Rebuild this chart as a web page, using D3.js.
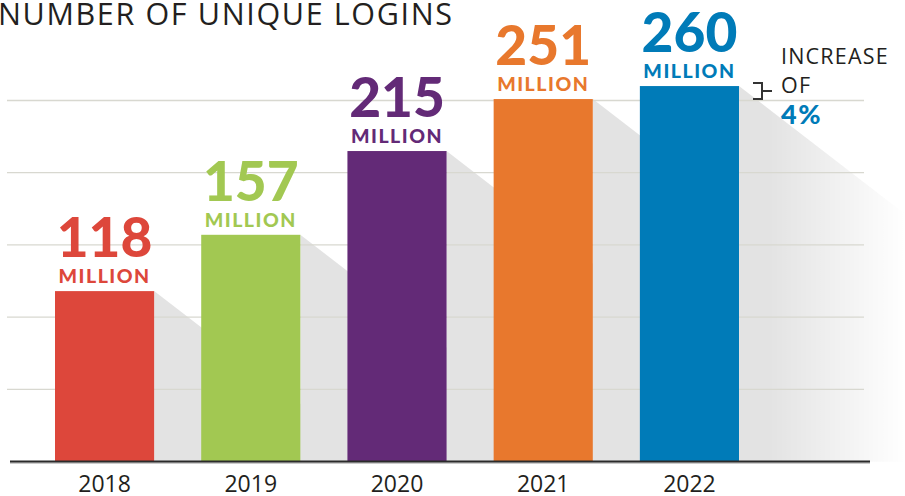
<!DOCTYPE html>
<html>
<head>
<meta charset="utf-8">
<script src="https://cdn.jsdelivr.net/npm/d3@7"></script>
<style>
  html, body { margin: 0; padding: 0; background: #fff; }
  svg { display: block; }
</style>
</head>
<body>
<div id="chart"></div>
<script>
// chart data
const years = ["2018", "2019", "2020", "2021", "2022"]
const logins = [118, 157, 215, 251, 260]
const barColors = ["#dd473b", "#a2c852", "#632a77", "#e8782d", "#007bb8"]
const gridValues = [50, 100, 150, 200, 250]
const title = "NUMBER OF UNIQUE LOGINS"
const unitLabel = "MILLION"
const increaseLines = ["INCREASE", "OF"]
const increaseValue = "4%"

const width = 905, height = 496
const baseY = 461.5
const shadowSlope = 0.77

const svg = d3.select('#chart').append('svg')
    .attr('width', width)
    .attr('height', height)

const x = d3.scaleBand()
    .domain(years)
    .range([55, 739])
    .paddingInner(0.322)
    .paddingOuter(0)

const y = d3.scaleLinear()
    .domain([0, 300])
    .range([baseY, baseY - 300 * 1.444])

const data = years.map((yr, i) => ({year: yr, value: logins[i], color: barColors[i]}))

// fade of the shadows on the right side
const defs = svg.append('defs')
const grad = defs.append('linearGradient')
    .attr('id', 'fade')
    .attr('gradientUnits', 'userSpaceOnUse')
    .attr('x1', 770).attr('x2', 905).attr('y1', 0).attr('y2', 0)
grad.append('stop').attr('offset', 0).attr('stop-color', '#fff').attr('stop-opacity', 1)
grad.append('stop').attr('offset', 1).attr('stop-color', '#fff').attr('stop-opacity', 0)
defs.append('mask').attr('id', 'shadowMask')
    .append('rect')
    .attr('x', 0).attr('y', 0).attr('width', width).attr('height', height)
    .attr('fill', 'url(#fade)')

// shadows cast by each bar
svg.append('g')
    .attr('mask', 'url(#shadowMask)')
    .selectAll('path')
    .data(data)
    .join('path')
    .attr('fill', '#e3e3e3')
    .attr('d', d => {
        const x1 = x(d.year) + x.bandwidth()
        const top = y(d.value)
        const x2 = x1 + (baseY - top) / shadowSlope
        return `M${x1},${top}L${x2},${baseY}L${x1},${baseY}Z`
    })

// gridlines
svg.append('g')
    .selectAll('line')
    .data(gridValues)
    .join('line')
    .attr('x1', 7).attr('x2', 864)
    .attr('y1', d => y(d)).attr('y2', d => y(d))
    .attr('stroke', '#d8d8d0')
    .attr('stroke-width', 1.3)

// bars
svg.append('g')
    .selectAll('rect')
    .data(data)
    .join('rect')
    .attr('x', d => x(d.year))
    .attr('y', d => y(d.value))
    .attr('width', x.bandwidth())
    .attr('height', d => baseY - y(d.value))
    .attr('fill', d => d.color)

// baseline
svg.append('line')
    .attr('x1', 10).attr('x2', 870)
    .attr('y1', baseY + 1.5).attr('y2', baseY + 1.5)
    .attr('stroke', '#bbb').attr('stroke-width', 1.5)
svg.append('line')
    .attr('x1', 10).attr('x2', 870)
    .attr('y1', baseY).attr('y2', baseY)
    .attr('stroke', '#2b2b2b').attr('stroke-width', 2.2)

// value labels
const labels = svg.append('g')
    .selectAll('g')
    .data(data)
    .join('g')
    .attr('transform', d => `translate(${x(d.year) + x.bandwidth() / 2},${y(d.value)})`)

labels.append('text')
    .attr('y', -34)
    .attr('text-anchor', 'middle')
    .style('font-family', 'Lato, sans-serif')
    .style('font-weight', 900)
    .style('font-size', '55px')
    .attr('fill', d => d.color)
    .text(d => d.value)

labels.append('text')
    .attr('y', -8)
    .attr('text-anchor', 'middle')
    .style('font-family', 'Lato, sans-serif')
    .style('font-weight', 900)
    .style('font-size', '19.5px')
    .style('letter-spacing', '1.5px')
    .attr('fill', d => d.color)
    .text(unitLabel)

// year axis labels
svg.append('g')
    .selectAll('text')
    .data(data)
    .join('text')
    .attr('x', d => x(d.year) + x.bandwidth() / 2)
    .attr('y', 492)
    .attr('text-anchor', 'middle')
    .style('font-family', '"Liberation Sans Narrow", "Open Sans", sans-serif')
    .style('font-size', '23px')
    .attr('fill', '#231f20')
    .text(d => d.year)

// title
svg.append('text')
    .attr('x', -2)
    .attr('y', 25)
    .attr('textLength', 454)
    .attr('lengthAdjust', 'spacing')
    .style('font-family', '"Open Sans", sans-serif')
    .style('font-size', '30.5px')
    .attr('fill', '#231f20')
    .text(title)

// increase annotation
const last = data[data.length - 1], prev = data[data.length - 2]
const bTop = y(last.value), bBot = y(prev.value)
const bx = x(last.year) + x.bandwidth() + 14
svg.append('path')
    .attr('d', `M${bx},${bTop - 3}H${bx + 9}V${bBot}H${bx}M${bx + 9},${(bTop - 3 + bBot) / 2}H${bx + 19}`)
    .attr('fill', 'none')
    .attr('stroke', '#333')
    .attr('stroke-width', 2)

svg.append('g')
    .selectAll('text')
    .data(increaseLines)
    .join('text')
    .attr('x', 781)
    .attr('y', (d, i) => 64 + i * 29)
    .style('font-family', '"Open Sans", sans-serif')
    .style('font-size', '21.5px')
    .style('letter-spacing', '1.2px')
    .attr('fill', '#231f20')
    .text(d => d)

svg.append('text')
    .attr('x', 781)
    .attr('y', 124)
    .style('font-family', 'Lato, sans-serif')
    .style('font-weight', 900)
    .style('font-size', '27px')
    .style('letter-spacing', '1.5px')
    .attr('fill', '#007bb8')
    .text(increaseValue)
</script>
</body>
</html>
